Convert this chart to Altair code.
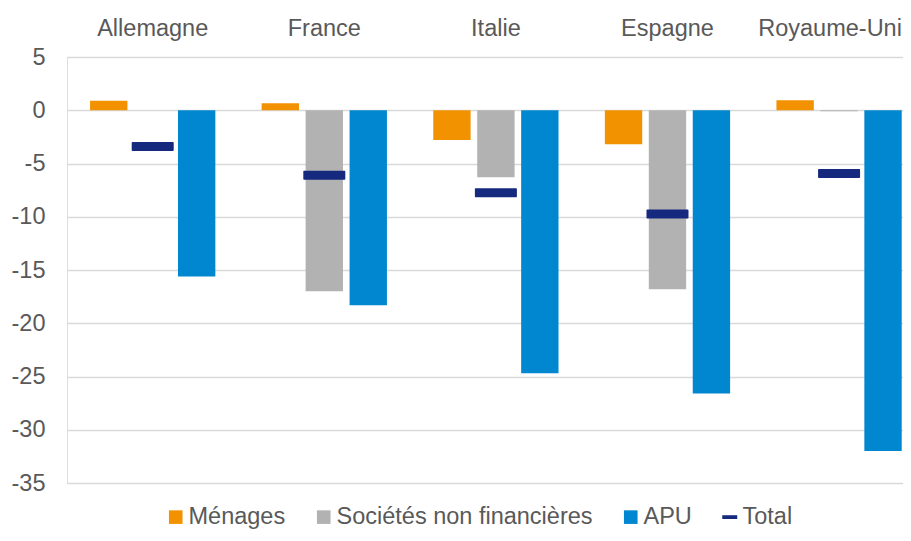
import altair as alt
import pandas as pd

countries = ["Allemagne", "France", "Italie", "Espagne", "Royaume-Uni"]
series = ["Ménages", "Sociétés non financières", "APU"]
menages = [0.9, 0.65, -2.8, -3.2, 0.95]
snf = [0.0, -17.0, -6.3, -16.8, -0.1]
apu = [-15.6, -18.3, -24.7, -26.6, -32.0]
total = [-3.4, -6.1, -7.75, -9.75, -5.95]
y_ticks = [5, 0, -5, -10, -15, -20, -25, -30, -35]

legend_domain = series + ["Total"]
colors = ["#F39200", "#B2B2B2", "#0087CF", "#15297F"]

rows = []
for i, c in enumerate(countries):
    for s, vals in zip(series, [menages, snf, apu]):
        rows.append({"pays": c, "serie": s, "valeur": vals[i]})
bars_df = pd.DataFrame(rows)
total_df = pd.DataFrame({"pays": countries, "serie": ["Total"] * len(countries), "valeur": total})

FONT = "Liberation Sans"
GREY = "#595959"
FS = 23.5

x_enc = alt.X(
    "pays:N",
    sort=countries,
    scale=alt.Scale(paddingInner=0.27, paddingOuter=0.071, align=0.947),
    axis=alt.Axis(
        orient="top", title=None, labelAngle=0, ticks=False, domain=False, grid=False,
        labelFont=FONT, labelFontSize=FS, labelColor=GREY, labelPadding=17,
        labelOverlap=False, labelBound=False, labelLimit=400,
        labelOffset={"condition": {"test": "datum.value == 'Royaume-Uni'", "value": -9}, "value": 0},
    ),
)
y_enc = alt.Y(
    "valeur:Q",
    scale=alt.Scale(domain=[-35, 5], nice=False, zero=False),
    axis=alt.Axis(
        values=y_ticks, title=None, ticks=False, domain=False,
        labelFont=FONT, labelFontSize=FS, labelColor=GREY, labelPadding=22,
        labelExpr="toString(datum.value)",
        gridColor="#D9D9D9", gridWidth=1.5,
    ),
)
color_enc = alt.Color(
    "serie:N",
    scale=alt.Scale(domain=legend_domain, range=colors),
    legend=alt.Legend(
        title=None, orient="none", legendX=97, legendY=448, direction="horizontal",
        labelFont=FONT, labelFontSize=FS, labelColor=GREY, labelOffset=1, labelLimit=400,
        columnPadding=26, symbolSize=185, symbolStrokeWidth=0, symbolOpacity=1,
        symbolType=alt.ExprRef("datum.value == 'Total' ? 'M-1.1,-0.28L1.1,-0.28L1.1,0.28L-1.1,0.28Z' : 'square'"),
    ),
)

bars = alt.Chart(bars_df).mark_bar(opacity=1).encode(
    x=x_enc,
    xOffset=alt.XOffset("serie:N", sort=series, scale=alt.Scale(paddingInner=0.15, paddingOuter=0)),
    y=y_enc,
    color=color_enc,
)

ticks = alt.Chart(total_df).mark_tick(size=42, thickness=9, cornerRadius=1, opacity=1).encode(
    x=alt.X("pays:N", sort=countries),
    y=alt.Y("valeur:Q"),
    color=alt.Color("serie:N"),
)

chart = alt.layer(bars, ticks).properties(
    width=836, height=426,
    autosize=alt.AutoSizeParams(type="none"),
    padding={"left": 59, "top": 49, "right": 0, "bottom": 48},
).configure_view(stroke=None).configure(background="white")

chart.save("out.html", embed_options={"renderer": "svg", "actions": False})
